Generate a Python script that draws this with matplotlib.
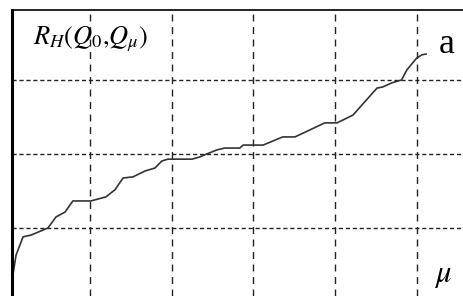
import matplotlib
matplotlib.use("Agg")
import matplotlib.pyplot as plt

plt.rcParams["mathtext.fontset"] = "stix"

# curve
mu = [1.0, 1.9, 3.6, 5.6, 9.7, 11.7, 13.9, 15.8, 20.2, 23.9, 26.1, 28.1,
      30.5, 33.5, 35.9, 37.6, 39.1, 45.0, 46.9, 48.6, 51.1, 53.0, 56.7, 57.5,
      62.4, 67.2, 70.2, 77.5, 80.5, 84.4, 87.3, 90.3, 91.7, 93.9, 96.3, 97.6,
      100.0, 101.3, 102.3]
rh = [0.065, 0.127, 0.176, 0.181, 0.200, 0.230, 0.243, 0.273, 0.273, 0.284,
      0.303, 0.335, 0.338, 0.354, 0.362, 0.381, 0.386, 0.386, 0.392, 0.400,
      0.411, 0.416, 0.416, 0.424, 0.424, 0.446, 0.446, 0.484, 0.484, 0.505,
      0.541, 0.578, 0.581, 0.592, 0.600, 0.627, 0.659, 0.668, 0.670]

x_grid = [20, 40, 60, 80, 100]
y_grid = [0.2, 0.4, 0.6]

fig = plt.figure(figsize=(4.64, 2.96), dpi=100)
ax = fig.add_axes([12 / 464, 0, 452 / 464, 286 / 296])

ax.plot(mu, rh, color="#333333", linewidth=1.2)

for g in x_grid:
    ax.axvline(g, color="#222222", linewidth=1.0, linestyle=(0, (5, 4)), zorder=0)
for g in y_grid:
    ax.axhline(g, color="#222222", linewidth=1.0, linestyle=(0, (3, 2)), zorder=0)

ax.set_xlim(0.9, 111.6)
ax.set_ylim(0.0162, 0.789)
ax.set_xticks([])
ax.set_yticks([])

ax.spines["right"].set_visible(False)
ax.spines["bottom"].set_visible(False)
ax.spines["left"].set_linewidth(2.2)
ax.spines["top"].set_linewidth(1.2)

ax.text(0.046, 0.878, r"$R_H(Q_{\mathit{0}}{,}Q_\mu)$", transform=ax.transAxes,
        fontsize=19, va="baseline", ha="left")
ax.text(0.945, 0.850, "a", transform=ax.transAxes, family="Liberation Serif",
        fontsize=26, va="baseline", ha="left")
ax.text(0.934, 0.049, r"$\mu$", transform=ax.transAxes,
        fontsize=22, va="baseline", ha="left")

fig.savefig("out.png", dpi=100)
